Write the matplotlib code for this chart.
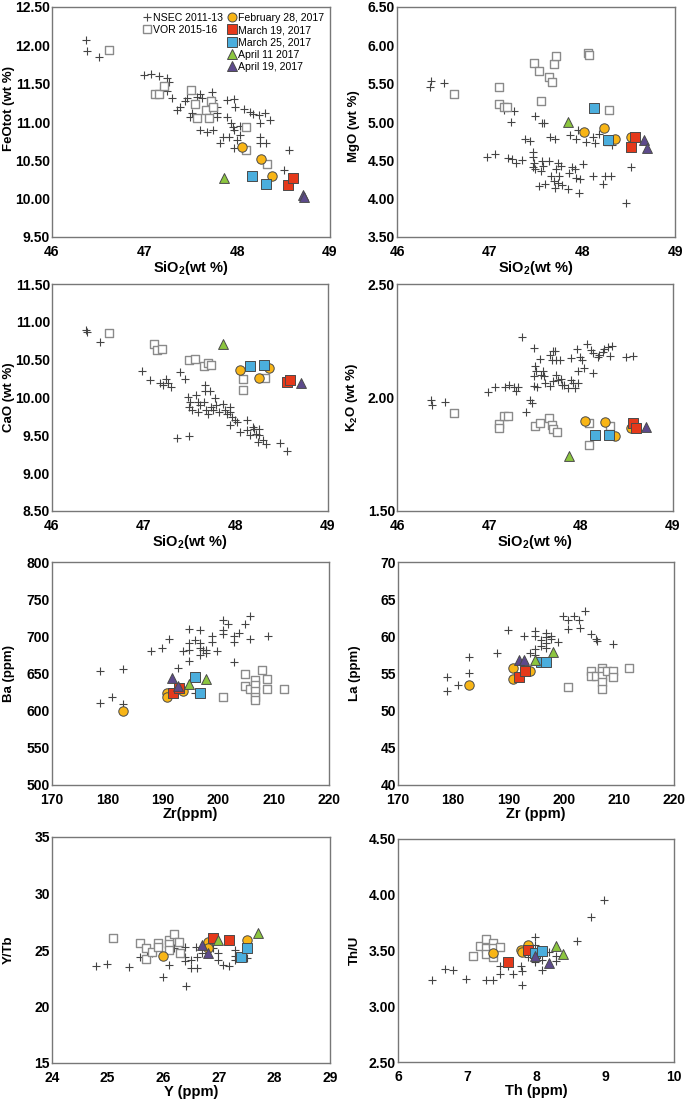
import matplotlib
matplotlib.use("Agg")
import matplotlib.pyplot as plt
from matplotlib.lines import Line2D

plt.rcParams['font.family'] = ['Liberation Sans', 'DejaVu Sans']
plt.rcParams['font.weight'] = 'bold'
plt.rcParams['mathtext.fontset'] = 'custom'
plt.rcParams['mathtext.bf'] = 'Liberation Sans:bold'
plt.rcParams['mathtext.rm'] = 'Liberation Sans:bold'
plt.rcParams['mathtext.default'] = 'bf'

## 데이터 (x, y) - 그림에서 읽은 값
# FeOtot vs SiO2
feo_nsec = [(46.37, 12.07), (46.38, 11.93), (46.51, 11.85), (46.99, 11.61), (47.07, 11.63), (47.16, 11.60),
            (47.24, 11.57), (47.26, 11.52), (47.24, 11.40), (47.17, 11.41), (47.29, 11.31), (47.35, 11.16),
            (47.38, 11.20), (47.44, 11.27), (47.46, 11.31), (47.49, 11.07), (47.51, 11.12), (47.56, 11.33),
            (47.60, 11.37), (47.62, 11.31), (47.73, 11.39), (47.74, 11.29), (47.78, 11.20), (47.78, 11.12),
            (47.78, 11.07), (47.60, 10.89), (47.67, 10.87), (47.74, 10.89), (47.81, 10.73), (47.85, 10.81),
            (47.89, 11.29), (47.96, 11.30), (47.98, 11.20), (48.07, 11.17), (48.14, 11.13), (48.17, 11.10),
            (48.23, 11.09), (48.30, 11.12), (48.35, 11.03), (47.89, 11.07), (47.93, 10.99), (47.95, 10.94),
            (47.96, 10.90), (47.91, 10.81), (48.03, 10.83), (48.00, 10.77), (47.96, 10.66), (48.24, 10.99),
            (48.24, 10.81), (48.24, 10.72), (48.31, 10.73), (48.56, 10.64), (48.50, 10.38), (48.03, 10.95)]
feo_vor = [(46.62, 11.94), (47.11, 11.36), (47.16, 11.37), (47.21, 11.47), (47.50, 11.42), (47.54, 11.23),
           (47.56, 11.05), (47.66, 11.16), (47.72, 11.27), (47.74, 11.20), (47.69, 11.05), (48.09, 10.94),
           (48.09, 10.64), (48.32, 10.45)]
feo_feb28 = [(48.05, 10.68), (48.26, 10.52), (48.37, 10.29)]
feo_mar19 = [(48.55, 10.18), (48.60, 10.27)]
feo_mar25 = [(48.16, 10.30), (48.31, 10.19)]
feo_apr11 = [(47.86, 10.27)]
feo_apr19 = [(48.71, 10.05), (48.72, 10.02)]

# MgO vs SiO2
mgo_nsec = [(46.37, 5.54), (46.36, 5.46), (46.51, 5.51), (47.15, 5.15), (47.26, 5.14), (47.23, 5.00),
            (47.49, 5.08), (47.56, 4.99), (47.59, 4.99), (47.38, 4.78), (47.44, 4.75), (46.97, 4.54),
            (47.06, 4.58), (47.20, 4.53), (47.24, 4.52), (47.28, 4.47), (47.35, 4.51), (47.47, 4.61),
            (47.47, 4.54), (47.48, 4.47), (47.47, 4.41), (47.49, 4.39), (47.56, 4.49), (47.58, 4.43),
            (47.55, 4.36), (47.53, 4.16), (47.60, 4.19), (47.65, 4.80), (47.71, 4.78), (47.64, 4.49),
            (47.66, 4.30), (47.69, 4.23), (47.70, 4.14), (47.72, 4.39), (47.74, 4.47), (47.75, 4.30),
            (47.74, 4.21), (47.77, 4.43), (47.78, 4.18), (47.84, 4.13), (47.86, 4.34), (47.89, 4.41),
            (47.92, 4.39), (47.93, 4.27), (47.96, 4.08), (47.98, 4.25), (48.01, 4.45), (47.87, 4.83),
            (47.93, 4.78), (47.95, 4.89), (48.04, 4.74), (48.12, 4.81), (48.14, 4.72), (48.18, 4.84),
            (48.12, 4.30), (48.22, 4.19), (48.24, 4.30), (48.31, 4.30), (48.32, 4.70), (48.53, 4.41),
            (48.47, 3.94)]
mgo_vor = [(46.62, 5.36), (47.10, 5.46), (47.10, 5.23), (47.15, 5.19), (47.19, 5.19), (47.48, 5.77),
           (47.53, 5.67), (47.55, 5.28), (47.64, 5.59), (47.67, 5.52), (47.69, 5.76), (47.72, 5.86),
           (48.06, 5.90), (48.07, 5.87), (48.29, 5.15), (48.28, 4.75)]
mgo_feb28 = [(48.02, 4.87), (48.23, 4.92), (48.35, 4.78), (48.52, 4.81)]
mgo_mar19 = [(48.52, 4.67), (48.57, 4.81)]
mgo_mar25 = [(48.13, 5.18), (48.28, 4.77)]
mgo_apr11 = [(47.84, 5.00)]
mgo_apr19 = [(48.67, 4.77), (48.70, 4.66)]

# CaO vs SiO2
cao_nsec = [(46.37, 10.89), (46.38, 10.86), (46.52, 10.74), (46.98, 10.35), (47.06, 10.23), (47.17, 10.19),
            (47.21, 10.16), (47.24, 10.25), (47.26, 10.19), (47.29, 10.14), (47.39, 10.34), (47.45, 10.25),
            (47.36, 9.46), (47.49, 9.49), (47.48, 10.01), (47.50, 9.94), (47.49, 9.88), (47.52, 9.84),
            (47.57, 10.03), (47.59, 9.94), (47.61, 9.90), (47.59, 9.81), (47.66, 10.17), (47.66, 10.08),
            (47.72, 10.08), (47.65, 9.94), (47.67, 9.83), (47.70, 9.78), (47.73, 9.88), (47.75, 9.83),
            (47.77, 9.99), (47.78, 9.90), (47.82, 9.81), (47.86, 9.92), (47.88, 9.83), (47.90, 9.78),
            (47.93, 9.81), (47.94, 9.87), (47.96, 9.74), (47.93, 9.63), (47.99, 9.70), (48.01, 9.67),
            (48.04, 9.55), (48.12, 9.70), (48.12, 9.57), (48.15, 9.50), (48.18, 9.61), (48.20, 9.59),
            (48.22, 9.52), (48.24, 9.41), (48.25, 9.50), (48.25, 9.58), (48.29, 9.44), (48.33, 9.39),
            (48.48, 9.40), (48.55, 9.29)]
cao_vor = [(46.62, 10.85), (47.11, 10.71), (47.14, 10.63), (47.20, 10.64), (47.49, 10.50), (47.55, 10.51),
           (47.65, 10.41), (47.70, 10.45), (47.73, 10.43), (48.08, 10.24), (48.08, 10.10), (48.31, 10.26)]
cao_feb28 = [(48.04, 10.37), (48.25, 10.26), (48.36, 10.39)]
cao_mar19 = [(48.55, 10.20), (48.59, 10.23)]
cao_mar25 = [(48.15, 10.42), (48.30, 10.43)]
cao_apr11 = [(47.86, 10.71)]
cao_apr19 = [(48.71, 10.19)]

# K2O vs SiO2
k2o_nsec = [(46.37, 1.991), (46.38, 1.966), (46.52, 1.980), (46.99, 2.023), (47.07, 2.047), (47.17, 2.047),
            (47.22, 2.057), (47.27, 2.045), (47.29, 2.028), (47.31, 2.047), (47.36, 2.265), (47.45, 1.991),
            (47.47, 1.977), (47.40, 1.937), (47.49, 2.218), (47.50, 2.137), (47.51, 2.115), (47.49, 2.096),
            (47.49, 2.050), (47.52, 2.047), (47.55, 2.170), (47.57, 2.101), (47.59, 2.115), (47.60, 2.094),
            (47.61, 2.064), (47.66, 2.188), (47.68, 2.167), (47.70, 2.203), (47.72, 2.206), (47.73, 2.164),
            (47.77, 2.164), (47.66, 2.050), (47.70, 2.072), (47.73, 2.101), (47.75, 2.079), (47.78, 2.082),
            (47.79, 2.057), (47.82, 2.057), (47.86, 2.042), (47.89, 2.075), (47.89, 2.174), (47.91, 2.064),
            (47.94, 2.042), (47.96, 2.214), (47.97, 2.115), (47.97, 2.064), (47.99, 2.177), (48.01, 2.167),
            (48.03, 2.130), (48.06, 2.237), (48.11, 2.211), (48.13, 2.108), (48.13, 2.196), (48.18, 2.177),
            (48.20, 2.188), (48.24, 2.199), (48.25, 2.214), (48.31, 2.184), (48.29, 2.222), (48.34, 2.225),
            (48.49, 2.177), (48.57, 2.184)]
k2o_vor = [(46.62, 1.933), (47.11, 1.882), (47.11, 1.867), (47.16, 1.918), (47.21, 1.918), (47.50, 1.874),
           (47.55, 1.889), (47.65, 1.911), (47.68, 1.877), (47.70, 1.863), (47.74, 1.849), (48.09, 1.889),
           (48.09, 1.791), (48.32, 1.874)]
k2o_feb28 = [(48.04, 1.896), (48.26, 1.893), (48.37, 1.830), (48.54, 1.867)]
k2o_mar19 = [(48.56, 1.886), (48.60, 1.867)]
k2o_mar25 = [(48.15, 1.835), (48.30, 1.835)]
k2o_apr11 = [(47.87, 1.743)]
k2o_apr19 = [(48.71, 1.871)]

# Ba vs Zr
ba_nsec = [(178.7, 653.6), (178.7, 610.9), (180.8, 619), (182.8, 656), (182.8, 609), (187.8, 679.7),
           (189.8, 684), (191.1, 696), (192.8, 658), (194.8, 710), (194.8, 691), (194.8, 681), (194.8, 667),
           (193.7, 680), (195.9, 695), (196.8, 708), (196.8, 691), (196.8, 684), (196.8, 675), (197.2, 682),
           (197.8, 682), (197.8, 677), (198.9, 701), (198.9, 693), (199.8, 680), (200.8, 722), (200.8, 709),
           (200.8, 703), (201.7, 716), (202.8, 700), (202.8, 693), (202.8, 666), (203.7, 705), (204.9, 716),
           (205.8, 727), (205.8, 696), (208.9, 700), (195.8, 624)]
ba_vor = [(200.8, 619), (204.8, 650), (204.8, 633), (205.8, 629), (206.7, 641), (206.7, 635), (206.7, 626),
          (206.7, 619), (206.7, 614), (207.9, 655), (208.8, 642), (208.8, 629), (211.9, 629)]
ba_feb28 = [(182.8, 600), (190.8, 624), (190.8, 618), (193.7, 626)]
ba_mar19 = [(191.8, 624), (193.0, 631)]
ba_mar25 = [(195.9, 645), (196.8, 624)]
ba_apr11 = [(194.8, 636), (197.8, 642)]
ba_apr19 = [(191.7, 644), (192.8, 633)]

# La vs Zr
la_nsec = [(178.9, 54.5), (178.9, 52.7), (180.8, 53.4), (182.9, 57.2), (182.9, 55.0), (187.9, 57.8),
           (189.9, 60.9), (192.9, 60.0), (193.9, 57.7), (194.8, 60.7), (194.8, 60.0), (194.8, 58.3),
           (194.8, 57.5), (195.9, 59.5), (195.9, 58.7), (196.8, 60.4), (196.8, 59.9), (196.8, 59.1),
           (196.8, 58.4), (197.8, 60.0), (197.8, 59.6), (198.9, 59.3), (199.9, 62.7), (200.8, 62.2),
           (200.8, 61.0), (201.9, 62.8), (202.8, 62.2), (202.9, 61.1), (203.9, 63.4), (204.9, 60.3),
           (205.8, 59.6), (206.0, 59.4), (209.0, 59.0)]
la_vor = [(200.8, 53.2), (204.9, 55.4), (204.9, 54.7), (205.8, 54.6), (206.9, 55.7), (206.9, 55.3),
          (206.9, 54.6), (206.9, 53.8), (206.9, 52.9), (207.9, 55.4), (208.9, 55.4), (208.9, 54.5),
          (211.9, 55.8)]
la_feb28 = [(182.9, 53.4), (190.9, 55.8), (190.9, 54.3), (193.9, 55.4)]
la_mar19 = [(191.9, 54.5), (193.0, 55.4)]
la_mar25 = [(195.9, 56.6), (196.9, 56.6)]
la_apr11 = [(194.9, 56.8), (198.0, 57.9)]
la_apr19 = [(191.9, 56.8), (192.9, 56.8)]

# Y/Tb vs Y
ytb_nsec = [(24.80, 23.6), (24.99, 23.8), (25.39, 23.5), (25.59, 24.4), (25.71, 24.6), (25.80, 24.7),
            (26.00, 22.6), (26.10, 23.7), (26.19, 25.2), (26.31, 24.7), (26.40, 25.3), (26.40, 24.4),
            (26.40, 24.0), (26.41, 21.8), (26.50, 24.1), (26.50, 23.4), (26.59, 25.3), (26.60, 24.4),
            (26.60, 23.4), (26.69, 24.7), (26.80, 25.5), (26.90, 25.2), (26.99, 24.7), (26.99, 24.1),
            (27.08, 23.7), (27.19, 23.6), (27.29, 25.0), (27.29, 24.5), (27.29, 24.1), (27.50, 24.3)]
ytb_vor = [(25.10, 26.1), (25.59, 25.6), (25.69, 25.2), (25.69, 24.2), (25.80, 24.8), (25.90, 25.6),
           (25.90, 25.3), (26.10, 25.9), (26.10, 25.5), (26.10, 25.0), (26.20, 26.4), (26.29, 25.7),
           (26.31, 24.7)]
ytb_feb28 = [(26.00, 24.5), (26.80, 25.7), (26.81, 25.2), (27.50, 25.9)]
ytb_mar19 = [(26.89, 26.1), (27.19, 25.9)]
ytb_mar25 = [(27.40, 24.4), (27.50, 25.2)]
ytb_apr11 = [(26.99, 25.9), (27.70, 26.5)]
ytb_apr19 = [(26.69, 25.4), (26.80, 24.7)]

# Th/U vs Th
thu_nsec = [(6.49, 3.237), (6.68, 3.336), (6.79, 3.321), (6.99, 3.243), (7.28, 3.237), (7.38, 3.237),
            (7.48, 3.357), (7.48, 3.291), (7.59, 3.357), (7.67, 3.291), (7.78, 3.363), (7.79, 3.312),
            (7.79, 3.187), (7.88, 3.446), (7.98, 3.625), (7.98, 3.545), (7.98, 3.394), (8.08, 3.327),
            (8.09, 3.416), (8.19, 3.491), (8.29, 3.452), (8.29, 3.407), (8.59, 3.587), (8.79, 3.799),
            (8.99, 3.954)]
thu_vor = [(7.08, 3.452), (7.19, 3.536), (7.28, 3.601), (7.28, 3.521), (7.28, 3.470), (7.38, 3.566),
           (7.38, 3.521), (7.38, 3.446), (7.48, 3.527)]
thu_feb28 = [(7.38, 3.476), (7.78, 3.506), (7.79, 3.485), (7.88, 3.545)]
thu_mar19 = [(7.59, 3.394), (7.88, 3.506)]
thu_mar25 = [(7.98, 3.476), (8.08, 3.497)]
thu_apr11 = [(8.29, 3.536), (8.39, 3.470)]
thu_apr19 = [(7.98, 3.452), (8.19, 3.387)]

## 스타일
edge = '#4a4a4a'
styles = {
    'feb28': dict(marker='o', s=46, c='#F8B516', label='February 28, 2017'),
    'mar19': dict(marker='s', s=42, c='#E5391B', label='March 19, 2017'),
    'mar25': dict(marker='s', s=42, c='#4BAEDD', label='March 25, 2017'),
    'apr11': dict(marker='^', s=50, c='#8CC63F', label='April 11 2017'),
    'apr19': dict(marker='^', s=50, c='#5D4A8C', label='April 19, 2017'),
}


def xy(pts):
    return [p[0] for p in pts], [p[1] for p in pts]


def panel(rect, nsec, vor, samples, xlim, ylim, xticks, yticks, yfmt, xlabel, ylabel, ylab_y=0.5):
    W, H = 685.0, 1102.0
    l, t, r, b = rect
    ax = fig.add_axes([l / W, 1 - b / H, (r - l) / W, (b - t) / H])
    x, y = xy(nsec)
    ax.scatter(x, y, marker='+', s=28, c='#444444', linewidths=0.8, zorder=2)
    x, y = xy(vor)
    ax.scatter(x, y, marker='s', s=32, facecolors='white', edgecolors='#8a8a8a', linewidths=1.0, zorder=3)
    for key, pts in samples.items():
        x, y = xy(pts)
        st = styles[key]
        ax.scatter(x, y, marker=st['marker'], s=st['s'], c=st['c'], edgecolors=edge,
                   linewidths=0.7, zorder=4)
    ax.set_xlim(xlim)
    ax.set_ylim(ylim)
    ax.set_xticks(xticks)
    ax.set_yticks(yticks)
    ax.set_yticklabels([yfmt.format(v) for v in yticks])
    ax.tick_params(length=0, labelsize=10)
    ax.tick_params(axis='x', pad=5.5)
    ax.tick_params(axis='y', pad=1.5)
    for lab in ax.get_xticklabels() + ax.get_yticklabels():
        lab.set_fontweight('bold')
    for sp in ax.spines.values():
        sp.set_color('#777777')
        sp.set_linewidth(1.0)
    ax.set_xlabel(xlabel, fontsize=10.5, fontweight='bold', labelpad=0)
    ax.set_ylabel(ylabel, fontsize=9.5, fontweight='bold')
    # 라벨 오른쪽 끝: 축 왼쪽에서 37px
    ax.yaxis.set_label_coords(-37.0 / (r - l), ylab_y)
    return ax


fig = plt.figure(figsize=(6.85, 11.02), dpi=100)

def pick(prefix):
    g = globals()
    return {k: g[prefix + '_' + k] for k in ['feb28', 'mar19', 'mar25', 'apr11', 'apr19']}

si_ticks = [46, 47, 48, 49]
sio2 = r'SiO$_2$(wt %)'

ax1 = panel((52, 7, 330, 237), feo_nsec, feo_vor, pick('feo'), (46, 49), (9.5, 12.5), si_ticks,
            [9.5, 10.0, 10.5, 11.0, 11.5, 12.0, 12.5], '{:.2f}', sio2, 'FeOtot (wt %)', ylab_y=0.56)
panel((397, 7, 675, 237), mgo_nsec, mgo_vor, pick('mgo'), (46, 49), (3.5, 6.5), si_ticks,
      [3.5, 4.0, 4.5, 5.0, 5.5, 6.0, 6.5], '{:.2f}', sio2, 'MgO (wt %)', ylab_y=0.48)
panel((52, 284, 328, 511), cao_nsec, cao_vor, pick('cao'), (46, 49), (8.5, 11.5), si_ticks,
      [8.5, 9.0, 9.5, 10.0, 10.5, 11.0, 11.5], '{:.2f}', sio2, 'CaO (wt %)')
panel((397, 284, 673, 511), k2o_nsec, k2o_vor, pick('k2o'), (46, 49), (1.5, 2.5), si_ticks,
      [1.5, 2.0, 2.5], '{:.2f}', sio2, r'K$_2$O (wt %)')
panel((52, 562, 329, 785), ba_nsec, ba_vor, pick('ba'), (170, 220), (500, 800),
      [170, 180, 190, 200, 210, 220], [500, 550, 600, 650, 700, 750, 800], '{:.0f}', 'Zr(ppm)', 'Ba (ppm)')
panel((398, 562, 674, 785), la_nsec, la_vor, pick('la'), (170, 220), (40, 70),
      [170, 180, 190, 200, 210, 220], [40, 45, 50, 55, 60, 65, 70], '{:.0f}', 'Zr (ppm)', 'La (ppm)')
panel((52, 837, 330, 1063), ytb_nsec, ytb_vor, pick('ytb'), (24, 29), (15, 35),
      [24, 25, 26, 27, 28, 29], [15, 20, 25, 30, 35], '{:.0f}', 'Y (ppm)', 'Y/Tb')
panel((398, 839, 674, 1062), thu_nsec, thu_vor, pick('thu'), (6, 10), (2.5, 4.5),
      [6, 7, 8, 9, 10], [2.5, 3.0, 3.5, 4.0, 4.5], '{:.2f}', 'Th (ppm)', 'Th/U')

## 범례
blank = Line2D([], [], linestyle='none', marker=None)
h_nsec = Line2D([], [], linestyle='none', marker='+', color='#444444', markersize=6, markeredgewidth=0.8)
h_vor = Line2D([], [], linestyle='none', marker='s', markerfacecolor='white', markeredgecolor='#8a8a8a',
               markersize=6)
handles = [h_nsec, h_vor, blank, blank, blank]
labels = ['NSEC 2011-13', 'VOR 2015-16', '', '', '']
for key in ['feb28', 'mar19', 'mar25', 'apr11', 'apr19']:
    st = styles[key]
    handles.append(Line2D([], [], linestyle='none', marker=st['marker'], markerfacecolor=st['c'],
                          markeredgecolor=edge, markeredgewidth=0.7, markersize=6.5))
    labels.append(st['label'])
leg = ax1.legend(handles, labels, ncol=2, loc='upper right', frameon=False, fontsize=7.6,
                 handletextpad=0.1, columnspacing=0.3, labelspacing=0.22, borderaxespad=0.15,
                 handlelength=1.0, bbox_to_anchor=(1.0, 1.0))
for t in leg.get_texts():
    t.set_fontweight('normal')

fig.savefig('out.png', dpi=100)
